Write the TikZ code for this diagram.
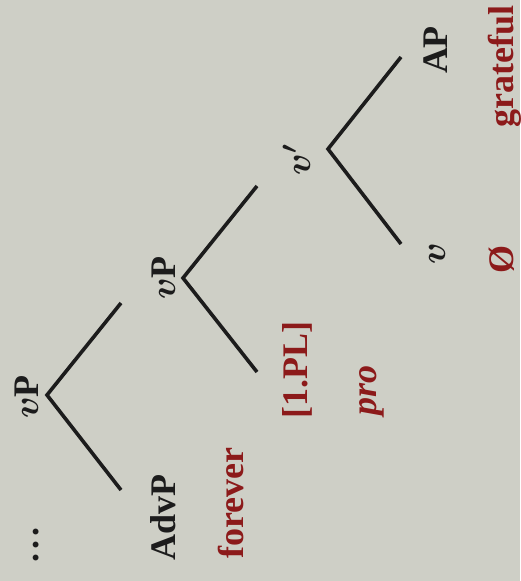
\RequirePackage{fix-cm}
\documentclass[tikz,border=0pt]{standalone}
\usepackage{fontspec}
\setmainfont{Liberation Serif}
\definecolor{bg}{RGB}{206,207,198}
\definecolor{wine}{RGB}{140,26,26}
\definecolor{ink}{RGB}{28,28,28}
\begin{document}
\begin{tikzpicture}[x=1pt,y=1pt,
  lbl/.style={rotate=90, anchor=base, inner sep=0pt, font=\fontsize{36}{40}\selectfont\bfseries, text=ink},
  gloss/.style={lbl, text=wine},
  branch/.style={draw=ink, line width=3.6pt}]
\fill[bg] (0,0) rectangle (520,-581);
\useasboundingbox (0,0) rectangle (520,-581);
\clip (0,0) rectangle (520,-581);
% labels
\node[lbl] (vp1) at (38,-397) {{\boldmath$v$}P};
\node[lbl] (dots) at (38,-545) {.\kern4pt.\kern4pt.};
\node[lbl] (advp) at (175,-517) {AdvP};
\node[gloss] (forever) at (243,-503) {forever};
\node[lbl] (vp2) at (175,-278) {{\boldmath$v$}P};
\node[gloss] (pl) at (307,-370) {[1.PL]};
\node[gloss] (pro) at (376,-390) {\itshape pro};
\node[lbl] (vbar) at (310,-160) {{\boldmath$v'$}};
\node[lbl] (v) at (445,-254) {{\boldmath$v$}};
\node[gloss] (null) at (513,-259) {Ø};
\node[lbl] (ap) at (447,-50) {AP};
\node[gloss, anchor=base west] (grateful) at (513,-128) {grateful};
% branches
\coordinate (n1) at (47,-395);
\coordinate (n1a) at (121,-303);
\coordinate (n1b) at (121,-490);
\coordinate (n2) at (183,-278);
\coordinate (n2a) at (257,-186);
\coordinate (n2b) at (257,-372);
\coordinate (n3) at (328,-149);
\coordinate (n3a) at (401,-57);
\coordinate (n3b) at (401,-244);
\draw[branch] (n1a) -- (n1) -- (n1b);
\draw[branch] (n2a) -- (n2) -- (n2b);
\draw[branch] (n3a) -- (n3) -- (n3b);
\end{tikzpicture}
\end{document}
